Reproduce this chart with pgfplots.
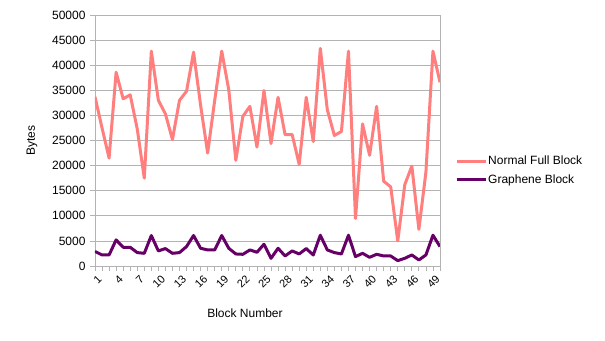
\documentclass[border=0pt]{standalone}
\usepackage{fontspec}
\setmainfont{Liberation Sans}
\usepackage{pgfplots}
\pgfplotsset{compat=1.18}
\definecolor{fullblk}{HTML}{FF7F7F}
\definecolor{graphene}{HTML}{660066}
\definecolor{gridc}{HTML}{B3B3B3}
\begin{document}
\begin{tikzpicture}
% fixed page: 605 x 340, axis box 345 x 251 placed at (95,15) from top-left
\useasboundingbox (-95pt,-74pt) rectangle (510pt,266pt);
\begin{axis}[
  scale only axis, width=345pt, height=251pt,
  xmin=1, xmax=50, ymin=0, ymax=50000,
  xtick={1,4,...,49}, minor xtick={1,...,50},
  ytick={0,5000,...,50000},
  tick align=outside, xtick pos=bottom, ytick pos=left,
  major tick length=5pt, minor tick length=5pt,
  tick style={gridc, line width=0.8pt},
  axis line style={gridc, line width=0.8pt},
  ymajorgrids, grid style={gridc, line width=0.8pt},
  scaled y ticks=false,
  /pgf/number format/1000 sep={},
  /pgf/number format/assume math mode=true,
  tick label style={font=\fontsize{12}{14}\selectfont, black},
  yticklabel style={xshift=-1pt},
  xticklabel style={font=\fontsize{11}{13}\selectfont, rotate=45, anchor=east,
                    inner sep=1pt, xshift=0pt, yshift=-8pt},
  every axis x label/.style={at={(axis description cs:0.5,0)}, anchor=center,
                             xshift=-22.5pt, yshift=-47pt},
  every axis y label/.style={at={(axis description cs:0,0.5)}, anchor=center,
                             xshift=-63pt, rotate=90},
  label style={font=\fontsize{12}{14}\selectfont},
  xlabel={Block Number}, ylabel={Bytes},
  legend style={draw=none, fill=none, at={(axis description cs:1,0.5)},
                anchor=west, xshift=12pt, yshift=-30pt,
                font=\fontsize{12}{14}\selectfont, row sep=6pt,
                nodes={inner sep=1pt}},
  legend cell align=left,
  legend image code/.code={\draw[#1] (0pt,0pt) -- (29pt,0pt);},
  every axis plot/.append style={line width=3pt, line join=round, no marks},
]
\addplot[fullblk] coordinates {
(1,33700) (2,27500) (3,21500) (4,38600) (5,33300) (6,34100) (7,27300) (8,17500)
(9,42800) (10,33000) (11,30300) (12,25200) (13,33000) (14,34800) (15,42600)
(16,32000) (17,22500) (18,33000) (19,42800) (20,35100) (21,21050) (22,29800)
(23,31800) (24,23700) (25,34950) (26,24400) (27,33600) (28,26150) (29,26200)
(30,20250) (31,33600) (32,24800) (33,43350) (34,31100) (35,26000) (36,26800)
(37,42800) (38,9470) (39,28300) (40,22050) (41,31800) (42,16900) (43,15750)
(44,5000) (45,16200) (46,19900) (47,7300) (48,18700) (49,42800) (50,36600)};
\addlegendentry{Normal Full Block}
\addplot[graphene] coordinates {
(1,2900) (2,2200) (3,2200) (4,5200) (5,3730) (6,3730) (7,2670) (8,2530)
(9,6070) (10,3000) (11,3470) (12,2530) (13,2670) (14,3870) (15,6070)
(16,3530) (17,3200) (18,3200) (19,6070) (20,3530) (21,2400) (22,2330)
(23,3200) (24,2730) (25,4330) (26,1530) (27,3530) (28,2000) (29,3000)
(30,2400) (31,3470) (32,2200) (33,6130) (34,3200) (35,2670) (36,2400)
(37,6130) (38,1870) (39,2530) (40,1730) (41,2330) (42,2000) (43,2000)
(44,1070) (45,1530) (46,2200) (47,1200) (48,2200) (49,6130) (50,3870)};
\addlegendentry{Graphene Block}
\end{axis}
\end{tikzpicture}
\end{document}
